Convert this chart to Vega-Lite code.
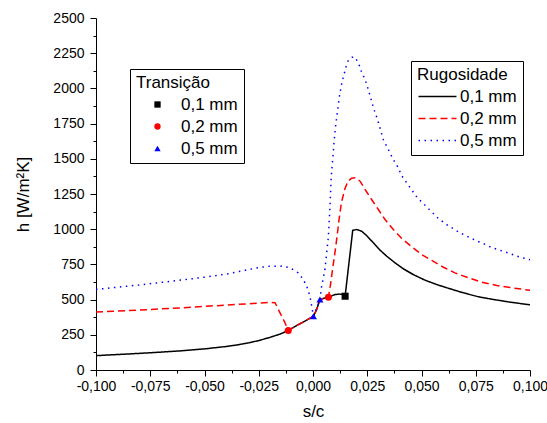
{
  "$schema": "https://vega.github.io/schema/vega-lite/v6.json",
  "width": 434,
  "height": 352,
  "autosize": {"type": "none"},
  "padding": {"left": 96, "top": 18, "right": 17, "bottom": 53},
  "config": {
    "locale": {"number": {"decimal": ",", "thousands": ".", "grouping": [3], "currency": ["", ""], "minus": "-"}},
    "view": {"stroke": null},
    "font": "Liberation Sans",
    "axis": {
      "grid": false,
      "domainColor": "#000000",
      "domainWidth": 1,
      "tickColor": "#000000",
      "tickWidth": 1,
      "labelColor": "#000000",
      "labelFont": "Liberation Sans",
      "labelFontSize": 14,
      "titleColor": "#000000",
      "titleFont": "Liberation Sans",
      "titleFontSize": 17,
      "titleFontWeight": "normal",
      "labelOverlap": false,
      "labelFlush": false
    },
    "legend": {
      "titleFont": "Liberation Sans",
      "titleFontSize": 17,
      "titleFontWeight": "normal",
      "titleColor": "#000000",
      "labelFont": "Liberation Sans",
      "labelFontSize": 17,
      "labelColor": "#000000",
      "strokeColor": "#000000",
      "strokeWidth": 1,
      "padding": 6,
      "rowPadding": 4,
      "titlePadding": 4
    }
  },
  "datasets": {
    "curvas": [
      {"s": -0.1, "h": 102, "Rugosidade": "0,1 mm"},
      {"s": -0.09, "h": 110, "Rugosidade": "0,1 mm"},
      {"s": -0.08, "h": 118, "Rugosidade": "0,1 mm"},
      {"s": -0.07, "h": 127, "Rugosidade": "0,1 mm"},
      {"s": -0.06, "h": 137, "Rugosidade": "0,1 mm"},
      {"s": -0.05, "h": 150, "Rugosidade": "0,1 mm"},
      {"s": -0.04, "h": 167, "Rugosidade": "0,1 mm"},
      {"s": -0.035, "h": 178, "Rugosidade": "0,1 mm"},
      {"s": -0.03, "h": 192, "Rugosidade": "0,1 mm"},
      {"s": -0.025, "h": 209, "Rugosidade": "0,1 mm"},
      {"s": -0.02, "h": 231, "Rugosidade": "0,1 mm"},
      {"s": -0.015, "h": 256, "Rugosidade": "0,1 mm"},
      {"s": -0.0114, "h": 281, "Rugosidade": "0,1 mm"},
      {"s": -0.0075, "h": 316, "Rugosidade": "0,1 mm"},
      {"s": -0.0037, "h": 347, "Rugosidade": "0,1 mm"},
      {"s": 0.0002, "h": 382, "Rugosidade": "0,1 mm"},
      {"s": 0.0017, "h": 430, "Rugosidade": "0,1 mm"},
      {"s": 0.0032, "h": 500, "Rugosidade": "0,1 mm"},
      {"s": 0.0052, "h": 510, "Rugosidade": "0,1 mm"},
      {"s": 0.0071, "h": 517, "Rugosidade": "0,1 mm"},
      {"s": 0.0102, "h": 536, "Rugosidade": "0,1 mm"},
      {"s": 0.012, "h": 539, "Rugosidade": "0,1 mm"},
      {"s": 0.0133, "h": 538, "Rugosidade": "0,1 mm"},
      {"s": 0.0148, "h": 524, "Rugosidade": "0,1 mm"},
      {"s": 0.0183, "h": 991, "Rugosidade": "0,1 mm"},
      {"s": 0.0201, "h": 998, "Rugosidade": "0,1 mm"},
      {"s": 0.0224, "h": 986, "Rugosidade": "0,1 mm"},
      {"s": 0.0247, "h": 955, "Rugosidade": "0,1 mm"},
      {"s": 0.0278, "h": 903, "Rugosidade": "0,1 mm"},
      {"s": 0.0309, "h": 851, "Rugosidade": "0,1 mm"},
      {"s": 0.034, "h": 808, "Rugosidade": "0,1 mm"},
      {"s": 0.0378, "h": 761, "Rugosidade": "0,1 mm"},
      {"s": 0.0416, "h": 719, "Rugosidade": "0,1 mm"},
      {"s": 0.0462, "h": 678, "Rugosidade": "0,1 mm"},
      {"s": 0.0516, "h": 638, "Rugosidade": "0,1 mm"},
      {"s": 0.057, "h": 607, "Rugosidade": "0,1 mm"},
      {"s": 0.0631, "h": 577, "Rugosidade": "0,1 mm"},
      {"s": 0.0693, "h": 548, "Rugosidade": "0,1 mm"},
      {"s": 0.0762, "h": 520, "Rugosidade": "0,1 mm"},
      {"s": 0.0831, "h": 501, "Rugosidade": "0,1 mm"},
      {"s": 0.0908, "h": 482, "Rugosidade": "0,1 mm"},
      {"s": 0.1, "h": 463, "Rugosidade": "0,1 mm"},

      {"s": -0.1, "h": 412, "Rugosidade": "0,2 mm"},
      {"s": -0.09, "h": 419, "Rugosidade": "0,2 mm"},
      {"s": -0.08, "h": 426, "Rugosidade": "0,2 mm"},
      {"s": -0.07, "h": 434, "Rugosidade": "0,2 mm"},
      {"s": -0.06, "h": 442, "Rugosidade": "0,2 mm"},
      {"s": -0.05, "h": 452, "Rugosidade": "0,2 mm"},
      {"s": -0.04, "h": 461, "Rugosidade": "0,2 mm"},
      {"s": -0.03, "h": 470, "Rugosidade": "0,2 mm"},
      {"s": -0.025, "h": 475, "Rugosidade": "0,2 mm"},
      {"s": -0.02, "h": 480, "Rugosidade": "0,2 mm"},
      {"s": -0.0175, "h": 478, "Rugosidade": "0,2 mm"},
      {"s": -0.0152, "h": 406, "Rugosidade": "0,2 mm"},
      {"s": -0.0129, "h": 335, "Rugosidade": "0,2 mm"},
      {"s": -0.0114, "h": 281, "Rugosidade": "0,2 mm"},
      {"s": -0.0075, "h": 316, "Rugosidade": "0,2 mm"},
      {"s": -0.0037, "h": 347, "Rugosidade": "0,2 mm"},
      {"s": 0.0002, "h": 382, "Rugosidade": "0,2 mm"},
      {"s": 0.0017, "h": 430, "Rugosidade": "0,2 mm"},
      {"s": 0.0032, "h": 500, "Rugosidade": "0,2 mm"},
      {"s": 0.0071, "h": 517, "Rugosidade": "0,2 mm"},
      {"s": 0.008, "h": 600, "Rugosidade": "0,2 mm"},
      {"s": 0.009, "h": 714, "Rugosidade": "0,2 mm"},
      {"s": 0.0101, "h": 832, "Rugosidade": "0,2 mm"},
      {"s": 0.0111, "h": 950, "Rugosidade": "0,2 mm"},
      {"s": 0.012, "h": 1069, "Rugosidade": "0,2 mm"},
      {"s": 0.0131, "h": 1188, "Rugosidade": "0,2 mm"},
      {"s": 0.0146, "h": 1282, "Rugosidade": "0,2 mm"},
      {"s": 0.0161, "h": 1341, "Rugosidade": "0,2 mm"},
      {"s": 0.0178, "h": 1362, "Rugosidade": "0,2 mm"},
      {"s": 0.0194, "h": 1365, "Rugosidade": "0,2 mm"},
      {"s": 0.0217, "h": 1341, "Rugosidade": "0,2 mm"},
      {"s": 0.024, "h": 1282, "Rugosidade": "0,2 mm"},
      {"s": 0.027, "h": 1211, "Rugosidade": "0,2 mm"},
      {"s": 0.0301, "h": 1140, "Rugosidade": "0,2 mm"},
      {"s": 0.0332, "h": 1069, "Rugosidade": "0,2 mm"},
      {"s": 0.037, "h": 998, "Rugosidade": "0,2 mm"},
      {"s": 0.0409, "h": 934, "Rugosidade": "0,2 mm"},
      {"s": 0.0455, "h": 875, "Rugosidade": "0,2 mm"},
      {"s": 0.0501, "h": 820, "Rugosidade": "0,2 mm"},
      {"s": 0.0547, "h": 778, "Rugosidade": "0,2 mm"},
      {"s": 0.0601, "h": 730, "Rugosidade": "0,2 mm"},
      {"s": 0.0654, "h": 690, "Rugosidade": "0,2 mm"},
      {"s": 0.0716, "h": 655, "Rugosidade": "0,2 mm"},
      {"s": 0.0777, "h": 624, "Rugosidade": "0,2 mm"},
      {"s": 0.0847, "h": 600, "Rugosidade": "0,2 mm"},
      {"s": 0.0916, "h": 584, "Rugosidade": "0,2 mm"},
      {"s": 0.1, "h": 566, "Rugosidade": "0,2 mm"},

      {"s": -0.1, "h": 572, "Rugosidade": "0,5 mm"},
      {"s": -0.09, "h": 588, "Rugosidade": "0,5 mm"},
      {"s": -0.08, "h": 604, "Rugosidade": "0,5 mm"},
      {"s": -0.07, "h": 622, "Rugosidade": "0,5 mm"},
      {"s": -0.06, "h": 640, "Rugosidade": "0,5 mm"},
      {"s": -0.05, "h": 659, "Rugosidade": "0,5 mm"},
      {"s": -0.04, "h": 681, "Rugosidade": "0,5 mm"},
      {"s": -0.03, "h": 712, "Rugosidade": "0,5 mm"},
      {"s": -0.025, "h": 728, "Rugosidade": "0,5 mm"},
      {"s": -0.02, "h": 737, "Rugosidade": "0,5 mm"},
      {"s": -0.0144, "h": 737, "Rugosidade": "0,5 mm"},
      {"s": -0.0106, "h": 726, "Rugosidade": "0,5 mm"},
      {"s": -0.0068, "h": 690, "Rugosidade": "0,5 mm"},
      {"s": -0.0045, "h": 643, "Rugosidade": "0,5 mm"},
      {"s": -0.0029, "h": 595, "Rugosidade": "0,5 mm"},
      {"s": -0.0014, "h": 524, "Rugosidade": "0,5 mm"},
      {"s": -0.0006, "h": 453, "Rugosidade": "0,5 mm"},
      {"s": 0.0002, "h": 382, "Rugosidade": "0,5 mm"},
      {"s": 0.0032, "h": 500, "Rugosidade": "0,5 mm"},
      {"s": 0.004, "h": 595, "Rugosidade": "0,5 mm"},
      {"s": 0.0055, "h": 714, "Rugosidade": "0,5 mm"},
      {"s": 0.0063, "h": 832, "Rugosidade": "0,5 mm"},
      {"s": 0.0071, "h": 950, "Rugosidade": "0,5 mm"},
      {"s": 0.0078, "h": 1150, "Rugosidade": "0,5 mm"},
      {"s": 0.0084, "h": 1376, "Rugosidade": "0,5 mm"},
      {"s": 0.0092, "h": 1518, "Rugosidade": "0,5 mm"},
      {"s": 0.0098, "h": 1637, "Rugosidade": "0,5 mm"},
      {"s": 0.0104, "h": 1731, "Rugosidade": "0,5 mm"},
      {"s": 0.0113, "h": 1838, "Rugosidade": "0,5 mm"},
      {"s": 0.0122, "h": 1945, "Rugosidade": "0,5 mm"},
      {"s": 0.0133, "h": 2040, "Rugosidade": "0,5 mm"},
      {"s": 0.0143, "h": 2099, "Rugosidade": "0,5 mm"},
      {"s": 0.0152, "h": 2153, "Rugosidade": "0,5 mm"},
      {"s": 0.0163, "h": 2200, "Rugosidade": "0,5 mm"},
      {"s": 0.018, "h": 2221, "Rugosidade": "0,5 mm"},
      {"s": 0.0194, "h": 2222, "Rugosidade": "0,5 mm"},
      {"s": 0.0212, "h": 2170, "Rugosidade": "0,5 mm"},
      {"s": 0.0224, "h": 2115, "Rugosidade": "0,5 mm"},
      {"s": 0.024, "h": 2063, "Rugosidade": "0,5 mm"},
      {"s": 0.025, "h": 2016, "Rugosidade": "0,5 mm"},
      {"s": 0.026, "h": 1964, "Rugosidade": "0,5 mm"},
      {"s": 0.027, "h": 1909, "Rugosidade": "0,5 mm"},
      {"s": 0.0281, "h": 1850, "Rugosidade": "0,5 mm"},
      {"s": 0.0293, "h": 1798, "Rugosidade": "0,5 mm"},
      {"s": 0.0304, "h": 1744, "Rugosidade": "0,5 mm"},
      {"s": 0.0324, "h": 1637, "Rugosidade": "0,5 mm"},
      {"s": 0.0347, "h": 1566, "Rugosidade": "0,5 mm"},
      {"s": 0.037, "h": 1495, "Rugosidade": "0,5 mm"},
      {"s": 0.0393, "h": 1436, "Rugosidade": "0,5 mm"},
      {"s": 0.0408, "h": 1382, "Rugosidade": "0,5 mm"},
      {"s": 0.0432, "h": 1329, "Rugosidade": "0,5 mm"},
      {"s": 0.0459, "h": 1270, "Rugosidade": "0,5 mm"},
      {"s": 0.0481, "h": 1223, "Rugosidade": "0,5 mm"},
      {"s": 0.0513, "h": 1175, "Rugosidade": "0,5 mm"},
      {"s": 0.0547, "h": 1123, "Rugosidade": "0,5 mm"},
      {"s": 0.0579, "h": 1074, "Rugosidade": "0,5 mm"},
      {"s": 0.0616, "h": 1033, "Rugosidade": "0,5 mm"},
      {"s": 0.0647, "h": 1003, "Rugosidade": "0,5 mm"},
      {"s": 0.0677, "h": 974, "Rugosidade": "0,5 mm"},
      {"s": 0.0716, "h": 946, "Rugosidade": "0,5 mm"},
      {"s": 0.075, "h": 920, "Rugosidade": "0,5 mm"},
      {"s": 0.0785, "h": 898, "Rugosidade": "0,5 mm"},
      {"s": 0.082, "h": 872, "Rugosidade": "0,5 mm"},
      {"s": 0.0854, "h": 854, "Rugosidade": "0,5 mm"},
      {"s": 0.0893, "h": 835, "Rugosidade": "0,5 mm"},
      {"s": 0.0923, "h": 818, "Rugosidade": "0,5 mm"},
      {"s": 0.0954, "h": 801, "Rugosidade": "0,5 mm"},
      {"s": 0.0985, "h": 790, "Rugosidade": "0,5 mm"},
      {"s": 0.1, "h": 783, "Rugosidade": "0,5 mm"}
    ],
    "transicao": [
      {"s": 0.0148, "h": 524, "Transição": "0,1 mm"},
      {"s": -0.0114, "h": 281, "Transição": "0,2 mm"},
      {"s": 0.0071, "h": 517, "Transição": "0,2 mm"},
      {"s": 0.0002, "h": 382, "Transição": "0,5 mm"},
      {"s": 0.0032, "h": 501, "Transição": "0,5 mm"}
    ]
  },
  "encoding": {
    "x": {
      "field": "s",
      "type": "quantitative",
      "scale": {"domain": [-0.1, 0.1], "nice": false, "zero": false},
      "axis": {
        "title": "s/c",
        "values": [-0.1, -0.0875, -0.075, -0.0625, -0.05, -0.0375, -0.025, -0.0125, 0, 0.0125, 0.025, 0.0375, 0.05, 0.0625, 0.075, 0.0875, 0.1],
        "labelExpr": "abs(round(datum.value * 80)) % 2 == 0 ? format(datum.value, '.3f') : ''",
        "tickSize": {"condition": {"test": "abs(round(datum.value * 80)) % 2 == 0", "value": 6}, "value": 3},
        "labelPadding": 3,
        "titlePadding": 10
      }
    },
    "y": {
      "field": "h",
      "type": "quantitative",
      "scale": {"domain": [0, 2500], "nice": false},
      "axis": {
        "title": "h [W/m²K]",
        "values": [0, 125, 250, 375, 500, 625, 750, 875, 1000, 1125, 1250, 1375, 1500, 1625, 1750, 1875, 2000, 2125, 2250, 2375, 2500],
        "labelExpr": "datum.value % 250 == 0 ? format(datum.value, 'd') : ''",
        "tickSize": {"condition": {"test": "datum.value % 250 == 0", "value": 6}, "value": 3},
        "labelPadding": 6,
        "titlePadding": 20
      }
    }
  },
  "layer": [
    {
      "data": {"name": "curvas"},
      "mark": {"type": "line", "strokeWidth": 1.5, "interpolate": "linear"},
      "encoding": {
        "color": {
          "field": "Rugosidade",
          "type": "nominal",
          "scale": {"domain": ["0,1 mm", "0,2 mm", "0,5 mm"], "range": ["#000000", "#ff0000", "#0000ff"]},
          "legend": {
            "orient": "none",
            "legendX": 315,
            "legendY": 43,
            "symbolType": "M-4,0H4",
            "symbolSize": 90,
            "symbolStrokeWidth": 1.5,
            "symbolOffset": 12,
            "labelOffset": 14
          }
        },
        "strokeDash": {
          "field": "Rugosidade",
          "type": "nominal",
          "scale": {"domain": ["0,1 mm", "0,2 mm", "0,5 mm"], "range": [[1, 0], [7, 4], [1.5, 4.5]]},
          "legend": {
            "orient": "none",
            "legendX": 315,
            "legendY": 43,
            "symbolType": "M-4,0H4",
            "symbolSize": 90,
            "symbolStrokeWidth": 1.5,
            "symbolOffset": 12,
            "labelOffset": 14
          }
        }
      }
    },
    {
      "data": {"name": "transicao"},
      "mark": {"type": "point", "filled": true, "opacity": 1, "size": 50},
      "encoding": {
        "color": {
          "field": "Transição",
          "type": "nominal",
          "scale": {"domain": ["0,1 mm", "0,2 mm", "0,5 mm"], "range": ["#000000", "#ff0000", "#0000ff"]},
          "legend": {
            "orient": "none",
            "legendX": 34,
            "legendY": 51,
            "symbolSize": 40,
            "symbolOffset": 13,
            "labelOffset": 15
          }
        },
        "shape": {
          "field": "Transição",
          "type": "nominal",
          "scale": {"domain": ["0,1 mm", "0,2 mm", "0,5 mm"], "range": ["square", "circle", "triangle-up"]},
          "legend": {
            "orient": "none",
            "legendX": 34,
            "legendY": 51,
            "symbolSize": 40,
            "symbolOffset": 13,
            "labelOffset": 15
          }
        }
      }
    }
  ],
  "resolve": {
    "scale": {"color": "independent", "shape": "independent", "strokeDash": "independent"},
    "legend": {"color": "independent", "shape": "independent", "strokeDash": "independent"}
  }
}
